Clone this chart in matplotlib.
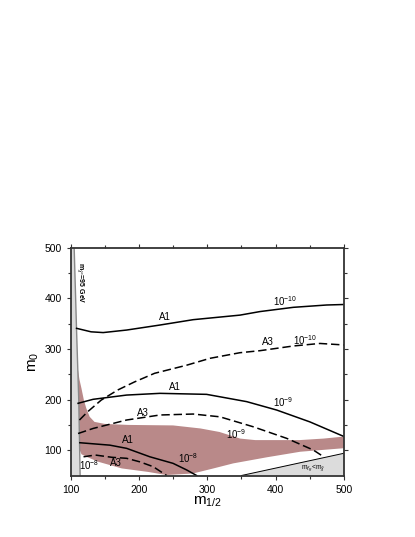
import numpy as np
import matplotlib.pyplot as plt

plt.rcParams['font.family'] = ['Liberation Sans', 'DejaVu Sans']
plt.rcParams['mathtext.fontset'] = 'custom'
plt.rcParams['mathtext.rm'] = 'Liberation Sans'
plt.rcParams['mathtext.it'] = 'Liberation Sans:italic'

# contour lines (m_1/2, m_0)
a1_10_x = [108.8, 130, 147.7, 182, 230.7, 279.4, 347.8, 377, 425.8, 474.6, 500]
a1_10_y = [340.9, 334, 332.5, 337.5, 347.4, 358, 367, 374, 382.4, 387, 388]
a3_10_x = [113, 125, 144.8, 169, 193.6, 222.9, 269.8, 303.9, 347.7, 377, 425.8, 464.8, 500]
a3_10_y = [159.7, 176, 199, 219, 235, 252, 268, 281.6, 292.7, 296.7, 306, 311, 308]
a1_9_x = [111, 133, 182, 230.7, 299, 357.6, 401.5, 450, 500]
a1_9_y = [192.7, 200.6, 209, 212.4, 210.4, 196, 179.4, 156, 127]
a3_9_x = [111, 133, 182, 230.7, 279.4, 318.5, 367, 416, 455, 469.7]
a3_9_y = [133, 143, 159.7, 169.6, 171.5, 166, 146.4, 123.5, 100.4, 87.5]
a1_8_x = [113.6, 157.5, 182, 216, 250, 269.8, 284.4]
a1_8_y = [114.8, 110, 103.7, 87, 74, 61, 50]
a3_8_x = [119, 136, 160.4, 182, 201.4, 221, 240.5]
a3_8_y = [87, 90.5, 86, 84, 77, 67.4, 50]

# shaded (pink) region outline
pink_x = [110.5, 113, 116, 119.5, 123, 128, 135, 150, 184, 250, 290, 318, 348, 370,
          435, 470, 500, 500, 436, 387, 338, 309, 279, 240, 214, 175, 141, 125, 116,
          113.5, 112]
pink_y = [262, 240, 222, 199, 183, 166, 156, 152, 150, 149, 143, 136, 123, 120,
          120, 123, 127, 104, 97, 86, 74, 64, 54, 51, 57, 64, 77, 86, 92, 100, 199]

# excluded regions
chargino_x = [100, 105.3, 108.8, 112, 114, 100]
chargino_y = [500, 500, 337, 199, 50, 50]
stau_x = [350, 500, 500]
stau_y = [50, 94, 50]

fig = plt.figure(figsize=(4.15, 5.37), dpi=100)
ax = fig.add_axes([0.170, 0.1145, 0.659, 0.424])

ax.fill(pink_x, pink_y, color='#b98989', lw=0, zorder=1)
ax.fill(chargino_x, chargino_y, color='#dcdcdc', lw=0, zorder=2)
ax.plot(chargino_x[1:5], chargino_y[1:5], color='#888888', lw=1.0, zorder=3)
ax.fill(stau_x, stau_y, color='#dcdcdc', lw=0, zorder=2)
ax.plot(stau_x[:2], stau_y[:2], color='black', lw=0.7, zorder=3)

solid = dict(color='black', lw=1.1, zorder=4)
dashed = dict(color='black', lw=1.1, zorder=4, dashes=(5.5, 2.5))
ax.plot(a1_10_x, a1_10_y, **solid)
ax.plot(a3_10_x, a3_10_y, **dashed)
ax.plot(a1_9_x, a1_9_y, **solid)
ax.plot(a3_9_x, a3_9_y, **dashed)
ax.plot(a1_8_x, a1_8_y, **solid)
ax.plot(a3_8_x, a3_8_y, **dashed)

fs = 7
ax.text(238, 364, 'A1', fontsize=fs, ha='center', va='center')
ax.text(414, 394, r'$\mathregular{10^{-10}}$', fontsize=fs, ha='center', va='center')
ax.text(389, 313, 'A3', fontsize=fs, ha='center', va='center')
ax.text(443, 318, r'$\mathregular{10^{-10}}$', fontsize=fs, ha='center', va='center')
ax.text(253, 225, 'A1', fontsize=fs, ha='center', va='center')
ax.text(411, 196, r'$\mathregular{10^{-9}}$', fontsize=fs, ha='center', va='center')
ax.text(206, 173, 'A3', fontsize=fs, ha='center', va='center')
ax.text(343, 132, r'$\mathregular{10^{-9}}$', fontsize=fs, ha='center', va='center')
ax.text(184, 120, 'A1', fontsize=fs, ha='center', va='center')
ax.text(272, 84, r'$\mathregular{10^{-8}}$', fontsize=fs, ha='center', va='center')
ax.text(167, 74, 'A3', fontsize=fs, ha='center', va='center')
ax.text(127, 70, r'$\mathregular{10^{-8}}$', fontsize=fs, ha='center', va='center')

ax.text(115, 430, r'm$_{\tilde\chi^{\pm}}$=95 GeV', fontsize=5, rotation=270,
        ha='center', va='center', fontweight='bold', zorder=5)
ax.text(455, 66, r'm$_{\tilde\tau_R}$<m$_{\tilde\chi}$', fontsize=4.8,
        ha='center', va='center', zorder=5)

ax.set_xlim(100, 500)
ax.set_ylim(50, 500)
ax.set_xticks([100, 200, 300, 400, 500])
ax.set_yticks([100, 200, 300, 400, 500])
ax.set_xticks(np.arange(150, 500, 100), minor=True)
ax.set_yticks(np.arange(150, 500, 100), minor=True)
ax.tick_params(which='both', direction='out', top=True, right=True,
               labelsize=7.5, width=0.8, color='#333333')
ax.tick_params(which='major', length=3)
ax.tick_params(which='minor', length=2)
for s in ax.spines.values():
    s.set_linewidth(1.3)
    s.set_color('#333333')
    s.set_zorder(6)

ax.set_xlabel(r'm$_{1/2}$', fontsize=11, labelpad=0)
ax.set_ylabel(r'm$_0$', fontsize=11, labelpad=2)

fig.savefig('out.png', dpi=100)
